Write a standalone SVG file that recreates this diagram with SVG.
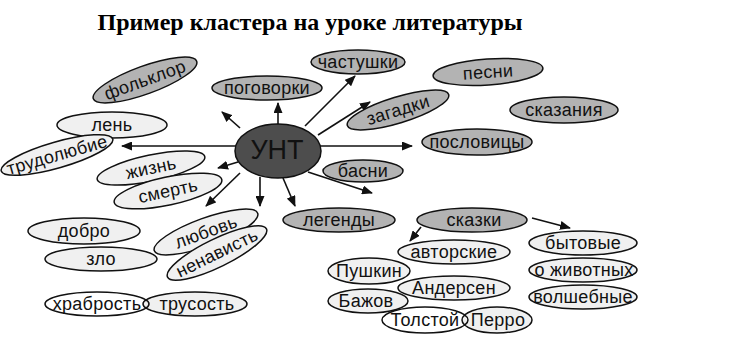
<svg xmlns="http://www.w3.org/2000/svg" width="742" height="338" viewBox="0 0 742 338">
<style>
.t{font-family:"Liberation Sans",Arial,sans-serif;font-size:18px;letter-spacing:0.3px;fill:#111;text-anchor:middle;dominant-baseline:central}
.dk{fill:#b3b3b3;stroke:#111;stroke-width:1.5}
.lt{fill:#f0f0f0;stroke:#111;stroke-width:1.5}
.c line{stroke:#111;stroke-width:1.6;marker-end:url(#ah)}
.title{font-family:"Liberation Serif","Times New Roman",serif;font-size:24px;font-weight:bold;fill:#000;text-anchor:middle}
</style>
<defs>
<marker id="ah" markerUnits="userSpaceOnUse" markerWidth="11" markerHeight="9" refX="10" refY="4.5" orient="auto">
<path d="M0,0 L11,4.5 L0,9 z" fill="#111"/>
</marker>
</defs>
<rect width="742" height="338" fill="#fff"/>
<text class="title" x="310" y="30">Пример кластера на уроке литературы</text>
<g class="c" id="connectors">
<line x1="278" y1="124" x2="278" y2="103"/>
<line x1="240" y1="128" x2="222" y2="112"/>
<line x1="305" y1="126" x2="355" y2="76"/>
<line x1="318" y1="135" x2="370" y2="102"/>
<line x1="236" y1="146" x2="122" y2="146"/>
<line x1="320" y1="146" x2="412" y2="146"/>
<line x1="308" y1="172" x2="372" y2="193"/>
<line x1="238" y1="162" x2="218" y2="168"/>
<line x1="240" y1="173" x2="206" y2="206"/>
<line x1="260" y1="177" x2="260" y2="206"/>
<line x1="283" y1="178" x2="295" y2="206"/>
<line x1="421" y1="227" x2="410" y2="241"/>
<line x1="532" y1="218" x2="570" y2="228"/>
</g>
<g id="n-unt"><ellipse cx="278" cy="151" rx="43" ry="27" fill="#4d4d4d" stroke="#111" stroke-width="1.5"/><text class="t" x="277" y="150" style="font-size:27px;letter-spacing:0">УНТ</text></g>
<g id="n-pogovorki"><ellipse class="dk" cx="267" cy="88" rx="55" ry="12"/><text class="t" x="267" y="88">поговорки</text></g>
<g id="n-chastushki"><ellipse class="dk" cx="358" cy="62" rx="47" ry="12"/><text class="t" x="358" y="62">частушки</text></g>
<g id="n-zagadki" transform="translate(398,110) rotate(-17)"><ellipse class="dk" cx="0" cy="0" rx="53" ry="13"/><text class="t" x="0" y="0">загадки</text></g>
<g id="n-pesni" transform="translate(488,72) rotate(-4)"><ellipse class="dk" cx="0" cy="0" rx="55" ry="13"/><text class="t" x="0" y="0">песни</text></g>
<g id="n-skazaniya"><ellipse class="dk" cx="564" cy="110" rx="54" ry="13"/><text class="t" x="564" y="110">сказания</text></g>
<g id="n-poslovitsy"><ellipse class="dk" cx="477" cy="142" rx="55" ry="13"/><text class="t" x="477" y="142">пословицы</text></g>
<g id="n-basni"><ellipse class="dk" cx="363" cy="171" rx="40" ry="11"/><text class="t" x="363" y="171">басни</text></g>
<g id="n-folklor" transform="translate(145,80) rotate(-20)"><ellipse class="dk" cx="0" cy="0" rx="55" ry="14"/><text class="t" x="0" y="0">фольклор</text></g>
<g id="n-len"><ellipse class="lt" cx="112" cy="125" rx="55" ry="13"/><text class="t" x="112" y="125">лень</text></g>
<g id="n-trudolyubie" transform="translate(57,155) rotate(-16)"><ellipse class="lt" cx="0" cy="0" rx="58" ry="13"/><text class="t" x="0" y="0">трудолюбие</text></g>
<g id="n-zhizn" transform="translate(151,168) rotate(-12)"><ellipse class="lt" cx="0" cy="0" rx="55" ry="13"/><text class="t" x="0" y="0">жизнь</text></g>
<g id="n-smert" transform="translate(168,191) rotate(-12)"><ellipse class="lt" cx="0" cy="0" rx="55" ry="14"/><text class="t" x="0" y="0">смерть</text></g>
<g id="n-legendy"><ellipse class="dk" cx="339" cy="220" rx="56" ry="12"/><text class="t" x="339" y="220">легенды</text></g>
<g id="n-skazki"><ellipse class="dk" cx="472" cy="220" rx="55" ry="12"/><text class="t" x="474" y="220">сказки</text></g>
<g id="n-dobro"><ellipse class="lt" cx="84" cy="231" rx="56" ry="13"/><text class="t" x="84" y="231">добро</text></g>
<g id="n-zlo"><ellipse class="lt" cx="101" cy="259" rx="56" ry="12"/><text class="t" x="101" y="259">зло</text></g>
<g id="n-lyubov" transform="translate(206,232) rotate(-20)"><ellipse class="lt" cx="0" cy="0" rx="55" ry="14"/><text class="t" x="0" y="0">любовь</text></g>
<g id="n-nenavist" transform="translate(217,253) rotate(-26)"><ellipse class="lt" cx="0" cy="0" rx="55" ry="14"/><text class="t" x="0" y="0">ненависть</text></g>
<g id="n-trusost"><ellipse class="lt" cx="195" cy="304" rx="52" ry="12"/><text class="t" x="197" y="304">трусость</text></g>
<g id="n-khrabrost"><ellipse class="lt" cx="97" cy="304" rx="52" ry="12" fill-opacity="0"/><text class="t" x="97" y="304">храбрость</text></g>
<g id="n-avtorskie"><ellipse class="lt" cx="454" cy="252" rx="56" ry="12"/><text class="t" x="454" y="252">авторские</text></g>
<g id="n-pushkin"><ellipse class="lt" cx="369" cy="271" rx="41" ry="13"/><text class="t" x="369" y="271">Пушкин</text></g>
<g id="n-andersen"><ellipse class="lt" cx="454" cy="288" rx="56" ry="12"/><text class="t" x="454" y="288">Андерсен</text></g>
<g id="n-bazhov"><ellipse class="lt" cx="368" cy="301" rx="40" ry="12"/><text class="t" x="366" y="301">Бажов</text></g>
<g id="n-perro"><ellipse class="lt" cx="497" cy="320" rx="35" ry="13"/><text class="t" x="498" y="320">Перро</text></g>
<g id="n-tolstoy"><ellipse class="lt" cx="425" cy="320" rx="43" ry="13" fill-opacity="0"/><text class="t" x="425" y="320">Толстой</text></g>
<g id="n-bytovye"><ellipse class="lt" cx="583" cy="243" rx="54" ry="12"/><text class="t" x="583" y="243">бытовые</text></g>
<g id="n-o-zhivotnykh"><ellipse class="lt" cx="583" cy="270" rx="54" ry="12"/><text class="t" x="584" y="270">о животных</text></g>
<g id="n-volshebnye"><ellipse class="lt" cx="583" cy="297" rx="54" ry="12"/><text class="t" x="583" y="297">волшебные</text></g>
</svg>
